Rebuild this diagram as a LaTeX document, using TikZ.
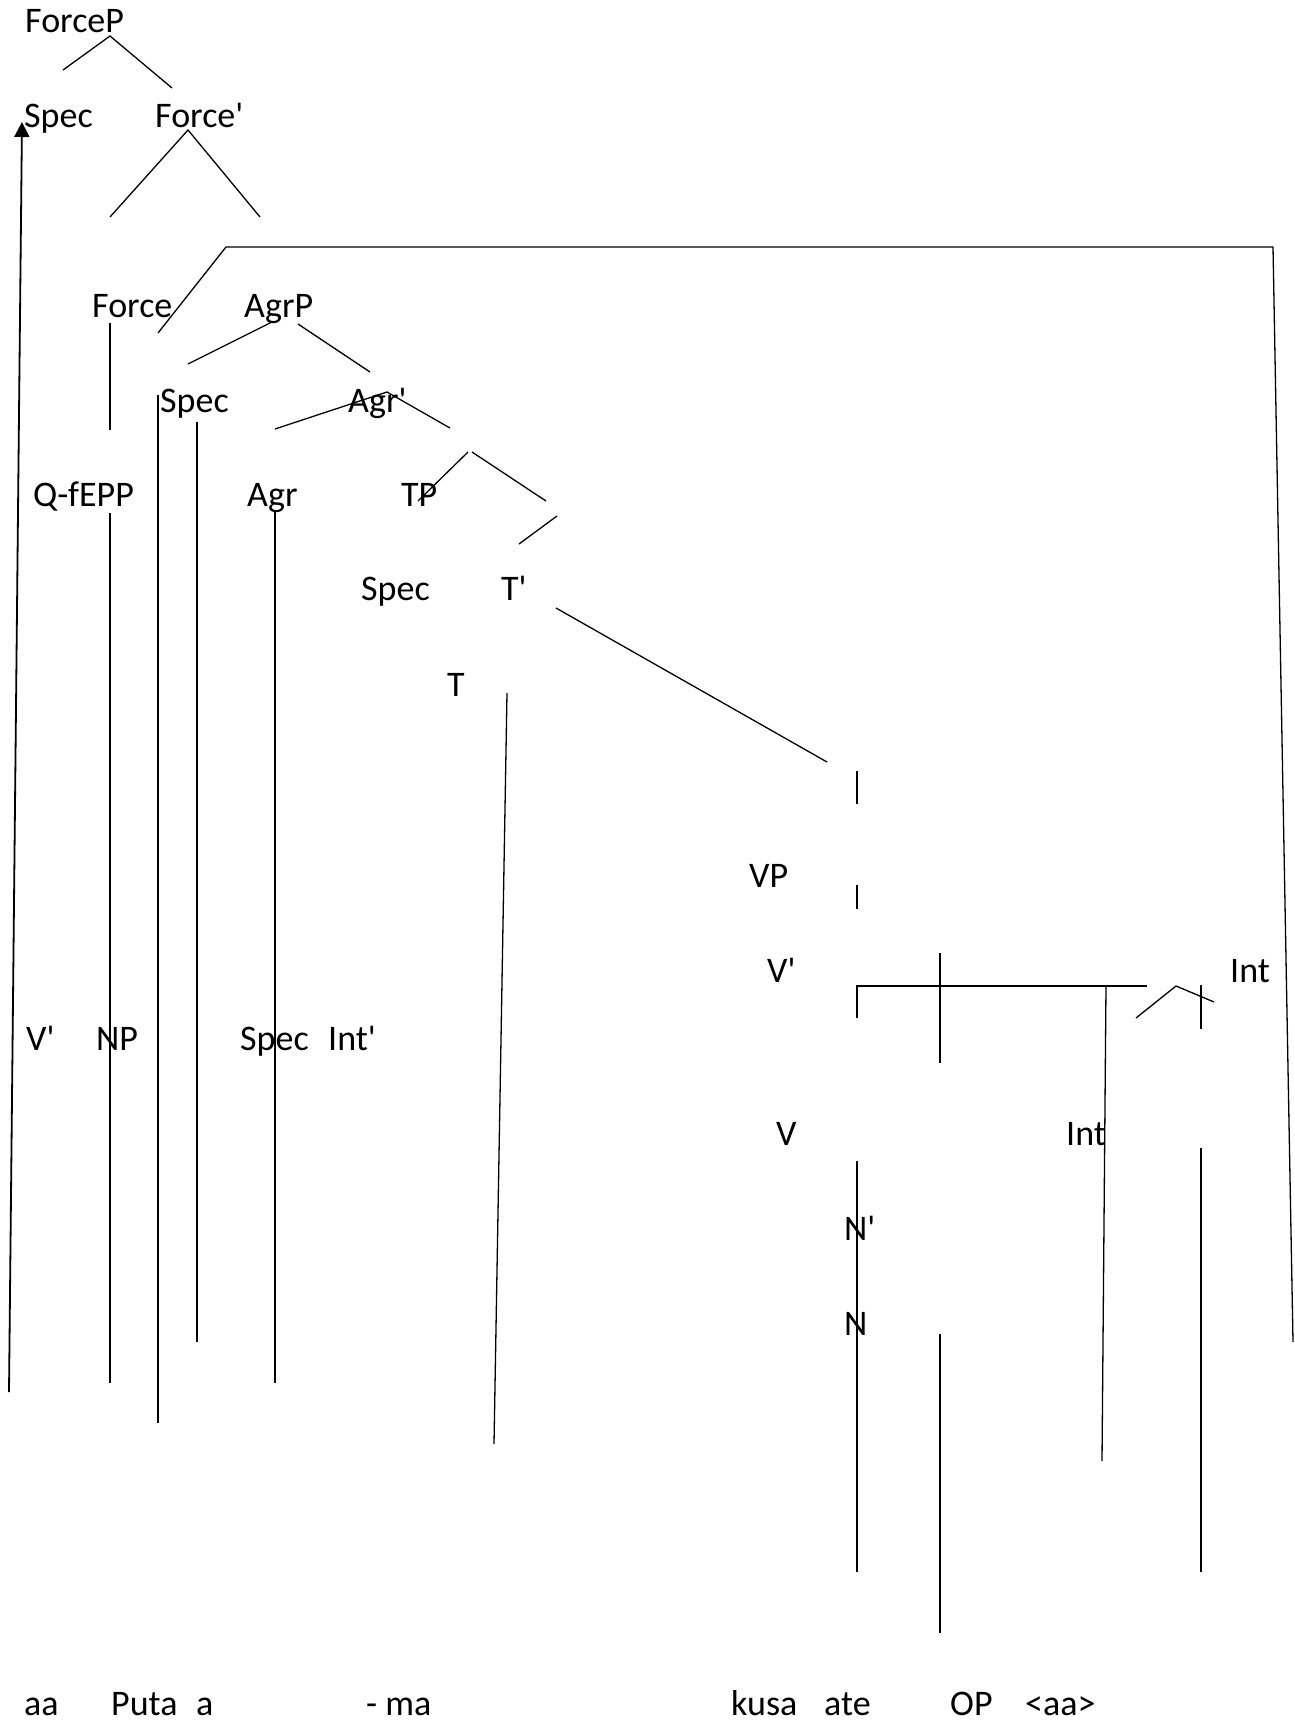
\documentclass[tikz,border=0pt]{standalone}
\usepackage{fontspec}
\setmainfont{Carlito}[Ligatures=TeXOff]
\usetikzlibrary{arrows.meta}
\begin{document}
\begin{tikzpicture}[x=1pt,y=-1pt,
  lbl/.style={anchor=base west,inner sep=0pt,font=\fontsize{36}{40}\selectfont},
  ln/.style={line width=1.3pt},
  mv/.style={line width=1.8pt,-{Triangle[length=15pt,width=15pt]}}]
\useasboundingbox[fill=white] (0,0) rectangle (1294,1721);

% ---------- labels ----------
\node[lbl] (forceP)  at (25,32)    {ForceP};
\node[lbl] (spec1)   at (24,127)   {Spec};
\node[lbl] (forcebar) at (155,127) {Force'};
\node[lbl] (force)   at (92,317)   {Force};
\node[lbl] (agrP)    at (244,317)  {AgrP};
\node[lbl] (spec2)   at (160,412)  {Spec};
\node[lbl] (agrbar)  at (348,412)  {Agr'};
\node[lbl] (qfepp)   at (33,506)   {Q-fEPP};
\node[lbl] (agr)     at (247,506)  {Agr};
\node[lbl] (tp)      at (401,506)  {TP};
\node[lbl] (spec3)   at (361,600)  {Spec};
\node[lbl] (tbar)    at (501,600)  {T'};
\node[lbl] (t)       at (447,696)  {T};
\node[lbl] (vp)      at (749,887)  {VP};
\node[lbl] (vbarA)   at (767,982)  {V'};
\node[lbl] (intA)    at (1230,982) {Int};
\node[lbl] (vbarB)   at (26,1050)  {V'};
\node[lbl] (np)      at (96,1050)  {NP};
\node[lbl] (spec4)   at (240,1050) {Spec};
\node[lbl] (intbar)  at (328,1050) {Int'};
\node[lbl] (v)       at (776,1145) {V};
\node[lbl] (intB)    at (1066,1145) {Int};
\node[lbl] (nbar)    at (844,1240) {N'};
\node[lbl] (n)       at (844,1335) {N};
% bottom words
\node[lbl] (w1) at (24,1715)   {aa};
\node[lbl] (w2) at (111,1715)  {Puta};
\node[lbl] (w3) at (196,1715)  {a};
\node[lbl] (w4) at (366,1715)  {- ma};
\node[lbl] (w5) at (731,1715)  {kusa};
\node[lbl] (w6) at (824,1715)  {ate};
\node[lbl] (w7) at (950,1715)  {OP};
\node[lbl] (w8) at (1025,1715) {<aa>};

% ---------- coordinates ----------
\coordinate (fpA) at (110,36);  \coordinate (fpL) at (63,70);   \coordinate (fpR) at (172,88);
\coordinate (fbA) at (188,130); \coordinate (fbL) at (110,217); \coordinate (fbR) at (260,217);
\coordinate (brS) at (158,333); \coordinate (brB) at (226,247);
\coordinate (brC) at (1273,247); \coordinate (brE) at (1293,1342);
\coordinate (foT) at (110,323); \coordinate (foB) at (110,430);
\coordinate (apL1) at (272,322); \coordinate (apL2) at (188,364);
\coordinate (apR1) at (298,324); \coordinate (apR2) at (370,372);
\coordinate (abL) at (275,429); \coordinate (abA) at (387,392); \coordinate (abR) at (450,428);
\coordinate (tpL1) at (468,452); \coordinate (tpL2) at (418,501);
\coordinate (tpR1) at (472,452); \coordinate (tpR2) at (546,501);
\coordinate (sh1) at (557,516); \coordinate (sh2) at (519,544);
\coordinate (tb1) at (556,608); \coordinate (tb2) at (827,762);
\coordinate (tT) at (507,693); \coordinate (tB) at (494,1444);
\coordinate (d1T) at (857,771); \coordinate (d1B) at (857,804);
\coordinate (d2T) at (857,885); \coordinate (d2B) at (857,909);
\coordinate (vcB) at (857,1018); \coordinate (vcC) at (857,986); \coordinate (vcE) at (1147,986);
\coordinate (crT) at (940,953); \coordinate (crB) at (940,1063);
\coordinate (inT) at (1106,986); \coordinate (inB) at (1102,1461);
\coordinate (caL) at (1136,1018); \coordinate (caA) at (1176,986); \coordinate (caR) at (1214,1002);
\coordinate (svT) at (1201,985); \coordinate (svB) at (1201,1029);
\coordinate (nT) at (857,1161); \coordinate (nB) at (857,1572);
\coordinate (rvT) at (1201,1148); \coordinate (rvB) at (1201,1572);
\coordinate (mvT) at (940,1334); \coordinate (mvB) at (940,1633);
\coordinate (q1T) at (110,513); \coordinate (q1B) at (110,1383);
\coordinate (s1T) at (158,395); \coordinate (s1B) at (158,1423);
\coordinate (s2T) at (197,422); \coordinate (s2B) at (197,1342);
\coordinate (agT) at (275,510); \coordinate (agB) at (275,1383);
\coordinate (arS) at (9,1392);  \coordinate (arE) at (22,122);

% ---------- lines ----------
\draw[ln] (fpL) -- (fpA) -- (fpR);
\draw[ln] (fbL) -- (fbA) -- (fbR);
\draw[ln] (brS) -- (brB) -- (brC) -- (brE);
\draw[ln] (foT) -- (foB);
\draw[ln] (apL1) -- (apL2);
\draw[ln] (apR1) -- (apR2);
\draw[ln] (abL) -- (abA) -- (abR);
\draw[ln] (tpL1) -- (tpL2);
\draw[ln] (tpR1) -- (tpR2);
\draw[ln] (sh1) -- (sh2);
\draw[ln] (tb1) -- (tb2);
\draw[ln] (tT) -- (tB);
\draw[ln] (d1T) -- (d1B);
\draw[ln] (d2T) -- (d2B);
\draw[ln] (vcB) -- (vcC) -- (vcE);
\draw[ln] (crT) -- (crB);
\draw[ln] (inT) -- (inB);
\draw[ln] (caL) -- (caA) -- (caR);
\draw[ln] (svT) -- (svB);
\draw[ln] (nT) -- (nB);
\draw[ln] (rvT) -- (rvB);
\draw[ln] (mvT) -- (mvB);
\draw[ln] (q1T) -- (q1B);
\draw[ln] (s1T) -- (s1B);
\draw[ln] (s2T) -- (s2B);
\draw[ln] (agT) -- (agB);
\draw[mv] (arS) -- (arE);
\end{tikzpicture}
\end{document}
